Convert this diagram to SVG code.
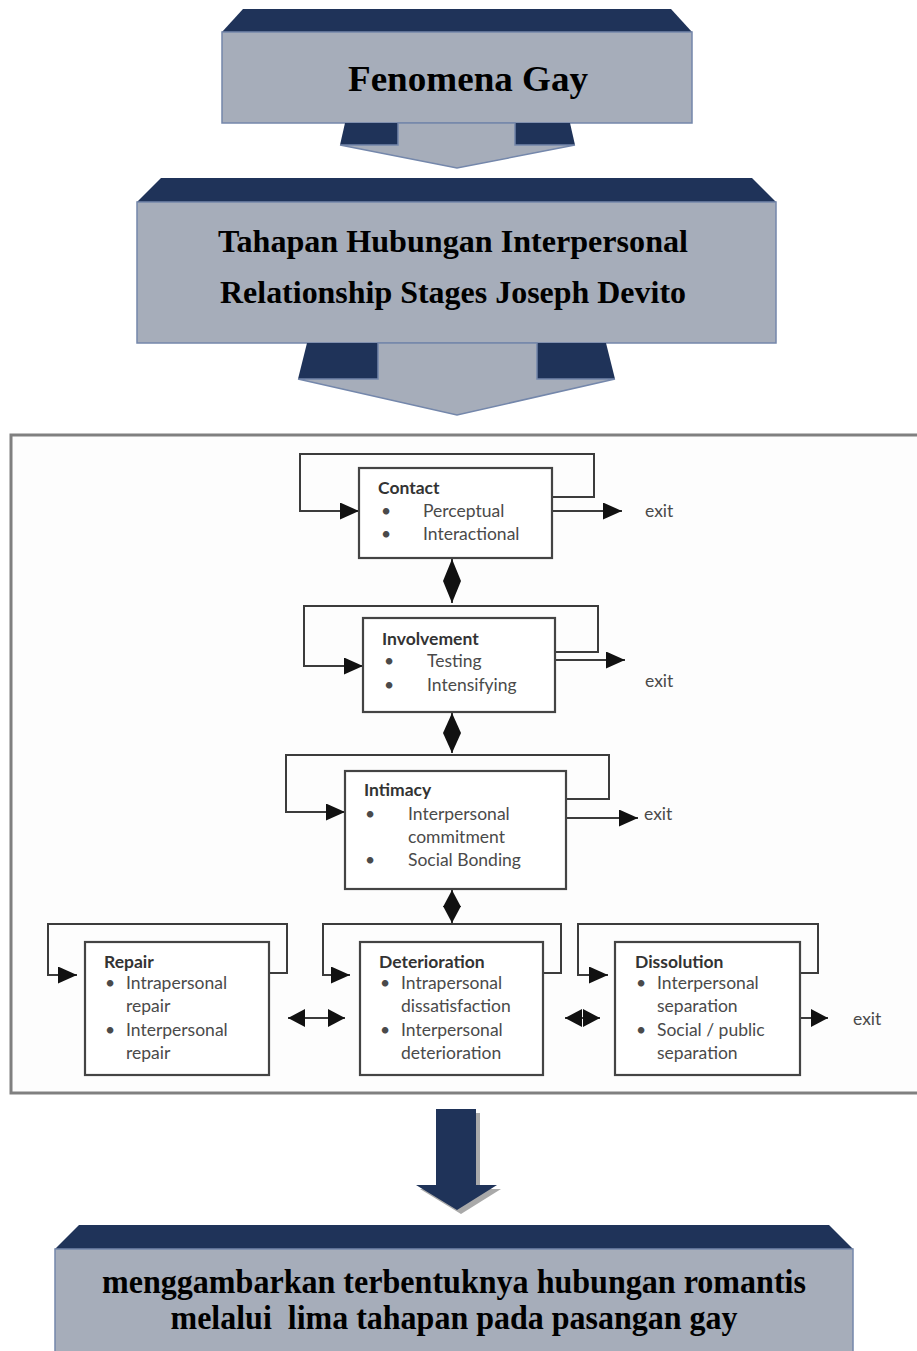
<svg xmlns="http://www.w3.org/2000/svg" width="917" height="1351" viewBox="0 0 917 1351">
<style>
.dark{fill:#1f3359;}
.light{fill:#a6adba;stroke:#7487ab;stroke-width:1.5;}
.title{font-family:"Liberation Serif","Times New Roman",serif;font-weight:bold;fill:#000;text-anchor:middle;}
.box{fill:#fff;stroke:#444;stroke-width:2.2;}
.ln{fill:none;stroke:#3c3c3c;stroke-width:2;}
.t{font-family:Lato,"Liberation Sans",sans-serif;font-size:17.5px;fill:#4a4a4a;}
.b{font-weight:bold;fill:#333;}
</style>
<defs>
<marker id="a" viewBox="0 0 10 10" refX="10" refY="5" markerWidth="19" markerHeight="17" markerUnits="userSpaceOnUse" orient="auto-start-reverse" preserveAspectRatio="none"><path d="M0,0 L10,5 L0,10 z" fill="#111"/></marker>
<marker id="d1" viewBox="0 0 10 10" refX="10" refY="5" markerWidth="22" markerHeight="18" markerUnits="userSpaceOnUse" orient="auto-start-reverse" preserveAspectRatio="none"><path d="M0,0 L10,5 L0,10 z" fill="#111"/></marker>
<marker id="d2" viewBox="0 0 10 10" refX="10" refY="5" markerWidth="20" markerHeight="18" markerUnits="userSpaceOnUse" orient="auto-start-reverse" preserveAspectRatio="none"><path d="M0,0 L10,5 L0,10 z" fill="#111"/></marker>
<marker id="d3" viewBox="0 0 10 10" refX="10" refY="5" markerWidth="17" markerHeight="18" markerUnits="userSpaceOnUse" orient="auto-start-reverse" preserveAspectRatio="none"><path d="M0,0 L10,5 L0,10 z" fill="#111"/></marker>
</defs>
<rect width="917" height="1351" fill="#fff"/>

<g id="fenomena">
<polygon class="dark" points="243,9 671,9 692,32 222,32"/>
<rect class="light" x="222" y="32" width="470" height="91"/>
<polygon class="dark" points="345,123 398,123 398,145 340,145"/>
<polygon class="dark" points="515,123 570,123 575,145 515,145"/>
<polygon class="light" points="398,123 515,123 515,145 575,145 457,168 340,145 398,145"/>
<text class="title" x="468" y="91" font-size="36" textLength="240" lengthAdjust="spacingAndGlyphs">Fenomena Gay</text>
</g>

<g id="tahapan">
<polygon class="dark" points="161,178 752,178 776,202 137,202"/>
<rect class="light" x="137" y="202" width="639" height="141"/>
<polygon class="dark" points="307,343 378,343 378,379 298,379"/>
<polygon class="dark" points="537,343 606,343 615,379 537,379"/>
<polygon class="light" points="378,343 537,343 537,379 615,379 457,415 298,379 378,379"/>
<text class="title" x="453" y="252" font-size="32" textLength="470" lengthAdjust="spacingAndGlyphs">Tahapan Hubungan Interpersonal</text>
<text class="title" x="453" y="303" font-size="32" textLength="466" lengthAdjust="spacingAndGlyphs">Relationship Stages Joseph Devito</text>
</g>

<g id="frame">
<rect x="11" y="435" width="920" height="658" fill="#fdfdfd" stroke="#808080" stroke-width="3"/>
</g>

<g id="connectors">
<path class="ln" d="M552,497 H594 V454 H300 V511 H359" marker-end="url(#a)"/>
<path class="ln" d="M555,652 H598 V606 H304 V666 H363" marker-end="url(#a)"/>
<path class="ln" d="M566,799 H609 V755 H286 V812 H345" marker-end="url(#a)"/>
<path class="ln" d="M269,973 H287 V924 H48 V975 H77" marker-end="url(#a)"/>
<path class="ln" d="M543,973 H561 V924 H323 V975 H350" marker-end="url(#a)"/>
<path class="ln" d="M800,973 H818 V924 H578 V975 H608" marker-end="url(#a)"/>
<path class="ln" d="M552,511 H622" marker-end="url(#a)"/>
<path class="ln" d="M555,660 H625" marker-end="url(#a)"/>
<path class="ln" d="M566,818 H638" marker-end="url(#a)"/>
<path class="ln" d="M800,1018 H828" marker-end="url(#d3)"/>
<path class="ln" d="M452,559 V603" marker-start="url(#d1)" marker-end="url(#d1)"/>
<path class="ln" d="M452,713 V753" marker-start="url(#d2)" marker-end="url(#d2)"/>
<path class="ln" d="M452,890 V923" marker-start="url(#d3)" marker-end="url(#d3)"/>
<path class="ln" d="M288,1018 H345" marker-start="url(#d3)" marker-end="url(#d3)"/>
<path class="ln" d="M565,1018 H600" marker-start="url(#d3)" marker-end="url(#d3)"/>
</g>

<g id="contact">
<rect class="box" x="359" y="468" width="193" height="90"/>
<text class="t b" x="378" y="494">Contact</text>
<text class="t" x="381" y="517">•</text><text class="t" x="423" y="517">Perceptual</text>
<text class="t" x="381" y="540">•</text><text class="t" x="423" y="540">Interactional</text>
</g>
<g id="involvement">
<rect class="box" x="363" y="618" width="192" height="94"/>
<text class="t b" x="382" y="645">Involvement</text>
<text class="t" x="384" y="667">•</text><text class="t" x="427" y="667">Testing</text>
<text class="t" x="384" y="691">•</text><text class="t" x="427" y="691">Intensifying</text>
</g>
<g id="intimacy">
<rect class="box" x="345" y="771" width="221" height="118"/>
<text class="t b" x="364" y="796">Intimacy</text>
<text class="t" x="365" y="820">•</text><text class="t" x="408" y="820">Interpersonal</text>
<text class="t" x="408" y="843">commitment</text>
<text class="t" x="365" y="866">•</text><text class="t" x="408" y="866">Social Bonding</text>
</g>
<g id="repair">
<rect class="box" x="85" y="942" width="184" height="133"/>
<text class="t b" x="104" y="968">Repair</text>
<text class="t" x="105" y="989">•</text><text class="t" x="126" y="989">Intrapersonal</text>
<text class="t" x="126" y="1012">repair</text>
<text class="t" x="105" y="1036">•</text><text class="t" x="126" y="1036">Interpersonal</text>
<text class="t" x="126" y="1059">repair</text>
</g>
<g id="deterioration">
<rect class="box" x="360" y="942" width="183" height="133"/>
<text class="t b" x="379" y="968">Deterioration</text>
<text class="t" x="380" y="989">•</text><text class="t" x="401" y="989">Intrapersonal</text>
<text class="t" x="401" y="1012">dissatisfaction</text>
<text class="t" x="380" y="1036">•</text><text class="t" x="401" y="1036">Interpersonal</text>
<text class="t" x="401" y="1059">deterioration</text>
</g>
<g id="dissolution">
<rect class="box" x="615" y="942" width="185" height="133"/>
<text class="t b" x="635" y="968">Dissolution</text>
<text class="t" x="636" y="989">•</text><text class="t" x="657" y="989">Interpersonal</text>
<text class="t" x="657" y="1012">separation</text>
<text class="t" x="636" y="1036">•</text><text class="t" x="657" y="1036">Social / public</text>
<text class="t" x="657" y="1059">separation</text>
</g>
<g id="exits">
<text class="t" x="645" y="517">exit</text>
<text class="t" x="645" y="687">exit</text>
<text class="t" x="644" y="820">exit</text>
<text class="t" x="853" y="1025">exit</text>
</g>

<g id="down-arrow">
<polygon fill="#a9a9a9" points="440,1113 480,1113 480,1189 501,1189 461,1214 420,1189 440,1189"/>
<polygon class="dark" points="436,1109 476,1109 476,1185 497,1185 457,1210 416,1185 436,1185"/>
</g>

<g id="result">
<polygon class="dark" points="79,1225 829,1225 853,1249 55,1249"/>
<rect class="light" x="55" y="1249" width="798" height="120"/>
<text class="title" x="454" y="1293" font-size="33" textLength="704" lengthAdjust="spacingAndGlyphs">menggambarkan terbentuknya hubungan romantis</text>
<text class="title" x="454" y="1329" font-size="33" textLength="567" lengthAdjust="spacingAndGlyphs" xml:space="preserve">melalui  lima tahapan pada pasangan gay</text>
</g>
</svg>
